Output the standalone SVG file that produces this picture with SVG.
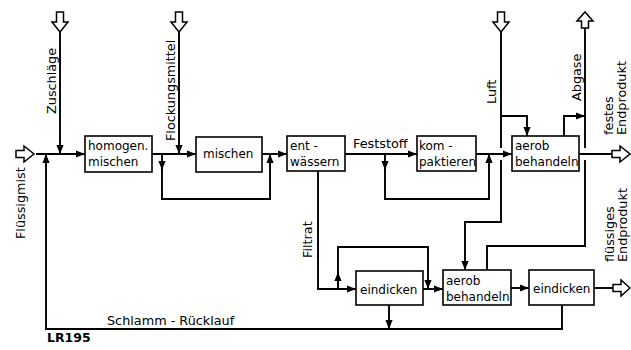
<svg xmlns="http://www.w3.org/2000/svg" width="631" height="350" viewBox="0 0 631 350">
<style>
.box{fill:#fff;stroke:#000;stroke-width:1.6}
.ln{fill:none;stroke:#000;stroke-width:1.9}
.ho{fill:#fff;stroke:#000;stroke-width:1.5;stroke-linejoin:miter}
text{font-family:"DejaVu Sans","Liberation Sans",sans-serif;font-size:12px;fill:#000}
.lb{font-size:12.8px}
.b{font-weight:bold;font-size:12.5px}
</style>
<defs>
<marker id="ah" viewBox="0 0 10 8" refX="10" refY="4" markerWidth="9" markerHeight="7.2" markerUnits="userSpaceOnUse" orient="auto">
<path d="M0,0 L10,4 L0,8 z" fill="#000"/>
</marker>
</defs>
<rect width="631" height="350" fill="#fff"/>

<g id="connectors">
<path class="ln" d="M36,154 H85" marker-end="url(#ah)"/>
<path class="ln" d="M60,32 V154" marker-end="url(#ah)"/>
<path class="ln" d="M562,305 V329 H46 V154" marker-end="url(#ah)"/>
<path class="ln" d="M389,305 V329" marker-end="url(#ah)"/>
<path class="ln" d="M152,154 H196" marker-end="url(#ah)"/>
<path class="ln" d="M179,32 V154" marker-end="url(#ah)"/>
<path class="ln" d="M162,154 V170" marker-end="url(#ah)"/>
<path class="ln" d="M162,168 V199 H270 V154" marker-end="url(#ah)"/>
<path class="ln" d="M262,154 H287" marker-end="url(#ah)"/>
<path class="ln" d="M345,154 H417" marker-end="url(#ah)"/>
<path class="ln" d="M385,154 V170" marker-end="url(#ah)"/>
<path class="ln" d="M385,168 V199 H489 V154" marker-end="url(#ah)"/>
<path class="ln" d="M476,154 H512" marker-end="url(#ah)"/>
<path class="ln" d="M501,32 V148"/>
<path class="ln" d="M501,160 V222 H465 V270" marker-end="url(#ah)"/>
<path class="ln" d="M501,116 H527 V136" marker-end="url(#ah)"/>
<path class="ln" d="M585,28 V148"/>
<path class="ln" d="M585,160 V246 H487 V270"/>
<path class="ln" d="M564,136 V116 H585" marker-end="url(#ah)"/>
<path class="ln" d="M579,154 H612"/>
<path class="ln" d="M318,171 V289 H356" marker-end="url(#ah)"/>
<path class="ln" d="M338,289 V272" marker-end="url(#ah)"/>
<path class="ln" d="M338,274 V247 H428 V289" marker-end="url(#ah)"/>
<path class="ln" d="M423,289 H443" marker-end="url(#ah)"/>
<path class="ln" d="M511,288 H529" marker-end="url(#ah)"/>
<path class="ln" d="M594,288 H613"/>
</g>

<g id="io-arrows">
<path class="ho" d="M16,150.5 H24 V146 L34,154 L24,162 V157.5 H16 Z"/>
<path class="ho" d="M56.5,12 H63.5 V22 H68 L60,32 L52,22 H56.5 Z"/>
<path class="ho" d="M175.5,12 H182.5 V22 H187 L179,32 L171,22 H175.5 Z"/>
<path class="ho" d="M497.5,12 H504.5 V22 H509 L501,32 L493,22 H497.5 Z"/>
<path class="ho" d="M581.5,28 V21 H577 L585,12 L593,21 H588.5 V28 Z"/>
<path class="ho" d="M612,150.5 H620 V146 L630,154 L620,162 V157.5 H612 Z"/>
<path class="ho" d="M613,284.5 H621 V280 L630,288 L621,296 V291.5 H613 Z"/>
</g>

<g id="homogen">
<rect class="box" x="85" y="136" width="67" height="36"/>
<text x="88" y="150">homogen.</text>
<text x="88" y="166">mischen</text>
</g>
<g id="mischen">
<rect class="box" x="196" y="137" width="66" height="35"/>
<text x="203" y="158">mischen</text>
</g>
<g id="entwaessern">
<rect class="box" x="287" y="136" width="58" height="35"/>
<text x="290" y="150">ent -</text>
<text x="290" y="166">wässern</text>
</g>
<g id="kompaktieren">
<rect class="box" x="417" y="136" width="59" height="35"/>
<text x="419" y="150">kom -</text>
<text x="419" y="166">paktieren</text>
</g>
<g id="aerob1">
<rect class="box" x="512" y="136" width="67" height="35"/>
<text x="515" y="150">aerob</text>
<text x="515" y="166">behandeln</text>
</g>
<g id="eindicken1">
<rect class="box" x="356" y="271" width="67" height="34"/>
<text x="360" y="294">eindicken</text>
</g>
<g id="aerob2">
<rect class="box" x="443" y="270" width="68" height="35"/>
<text x="446" y="285">aerob</text>
<text x="446" y="301">behandeln</text>
</g>
<g id="eindicken2">
<rect class="box" x="529" y="270" width="65" height="35"/>
<text x="533" y="293">eindicken</text>
</g>

<g id="labels">
<text class="lb" transform="translate(25,239) rotate(-90)">Flüssigmist</text>
<text class="lb" transform="translate(56,114) rotate(-90)">Zuschläge</text>
<text class="lb" transform="translate(175,141) rotate(-90)">Flockungsmittel</text>
<text class="lb" x="353" y="148">Feststoff</text>
<text class="lb" transform="translate(496,104) rotate(-90)">Luft</text>
<text class="lb" transform="translate(581,101) rotate(-90)">Abgase</text>
<text class="lb" transform="translate(613,135) rotate(-90)">festes</text>
<text class="lb" transform="translate(626,135) rotate(-90)">Endprodukt</text>
<text class="lb" transform="translate(312,258) rotate(-90)">Filtrat</text>
<text class="lb" transform="translate(614,262) rotate(-90)">flüssiges</text>
<text class="lb" transform="translate(627,262) rotate(-90)">Endprodukt</text>
<text class="lb" x="107" y="325">Schlamm - Rücklauf</text>
<text class="b" x="47" y="342">LR195</text>
</g>
</svg>
